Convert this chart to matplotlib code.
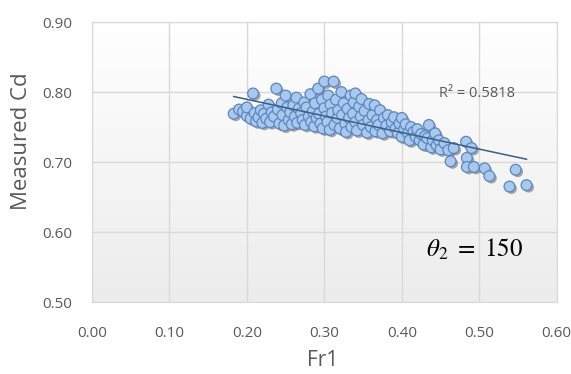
import numpy as np
import matplotlib
matplotlib.use('Agg')
import matplotlib.pyplot as plt
import matplotlib.patheffects as pe

# Fr1 vs measured Cd
fr1 = [
    0.183, 0.19, 0.195, 0.20, 0.200, 0.205, 0.208, 0.21, 0.212, 0.215, 0.218, 0.22, 0.222,
    0.225, 0.228, 0.23, 0.232, 0.235, 0.238, 0.24, 0.242, 0.245, 0.246, 0.248, 0.25, 0.252,
    0.254, 0.256, 0.258, 0.26,
    0.262, 0.264, 0.265, 0.267, 0.27, 0.272, 0.274, 0.275, 0.277, 0.28, 0.282, 0.283, 0.285,
    0.287, 0.288, 0.29, 0.292, 0.293, 0.295, 0.297, 0.298, 0.30, 0.30,
    0.302, 0.304, 0.305, 0.307, 0.308, 0.31, 0.312, 0.313, 0.315, 0.317, 0.318, 0.32, 0.322,
    0.323, 0.325, 0.327, 0.328, 0.33, 0.332, 0.334, 0.335, 0.337, 0.338, 0.34, 0.34,
    0.342, 0.345, 0.347, 0.348, 0.35, 0.352, 0.355, 0.357, 0.358, 0.36, 0.362, 0.365, 0.366,
    0.368, 0.37, 0.372, 0.375, 0.377, 0.38, 0.382, 0.385, 0.387, 0.39, 0.392, 0.395, 0.397,
    0.40, 0.40,
    0.403, 0.405, 0.408, 0.41, 0.412, 0.415, 0.418, 0.42, 0.423, 0.425, 0.428, 0.43, 0.433,
    0.435, 0.438, 0.44, 0.443, 0.445, 0.448, 0.45,
    0.455, 0.46, 0.463, 0.467, 0.483, 0.484, 0.484, 0.490, 0.493, 0.507, 0.513, 0.539, 0.547, 0.561,
]
cd = [
    0.769, 0.775, 0.772, 0.766, 0.778, 0.762, 0.798, 0.770, 0.758, 0.764, 0.774, 0.756, 0.769,
    0.762, 0.782, 0.757, 0.771, 0.765, 0.805, 0.775, 0.755, 0.784, 0.767, 0.752, 0.795, 0.778,
    0.760, 0.771, 0.754, 0.781,
    0.765, 0.792, 0.756, 0.776, 0.770, 0.760, 0.785, 0.753, 0.778, 0.765, 0.797, 0.757, 0.772,
    0.751, 0.784, 0.763, 0.805, 0.769, 0.755, 0.789, 0.748, 0.815, 0.777,
    0.765, 0.757, 0.795, 0.746, 0.782, 0.770, 0.815, 0.753, 0.789, 0.763, 0.774, 0.748, 0.800,
    0.767, 0.784, 0.755, 0.743, 0.776, 0.763, 0.795, 0.750, 0.769, 0.785, 0.757, 0.798,
    0.745, 0.779, 0.765, 0.790, 0.753, 0.773, 0.742, 0.760, 0.783, 0.750, 0.767, 0.781, 0.744,
    0.760, 0.753, 0.774, 0.741, 0.763, 0.752, 0.767, 0.744, 0.757, 0.764, 0.748, 0.741, 0.755,
    0.763, 0.736,
    0.747, 0.754, 0.741, 0.731, 0.750, 0.743, 0.736, 0.747, 0.731, 0.740, 0.725, 0.737, 0.734,
    0.753, 0.721, 0.731, 0.741, 0.724, 0.731, 0.718,
    0.727, 0.717, 0.701, 0.720, 0.729, 0.706, 0.693, 0.720, 0.693, 0.691, 0.680, 0.665, 0.689, 0.667,
]
x_ticks = [0.0, 0.1, 0.2, 0.3, 0.4, 0.5, 0.6]
y_ticks = [0.5, 0.6, 0.7, 0.8, 0.9]
r2_text = 'R² = 0.5818'
angle_text = r'$\theta_2\ =\ 150$'

plt.rcParams['font.family'] = ['Open Sans', 'DejaVu Sans']
plt.rcParams['mathtext.fontset'] = 'stix'

fig = plt.figure(figsize=(5.71, 3.74), dpi=100)
ax = fig.add_axes([0.161, 0.1925, 0.814, 0.7485])

# light gradient in the plot area
grad = np.linspace(0, 1, 256).reshape(-1, 1)
ax.imshow(grad, extent=[0, 0.6, 0.5, 0.9], aspect='auto', zorder=0,
          cmap=matplotlib.colors.LinearSegmentedColormap.from_list('bg', ['#ececec', '#ffffff']),
          origin='lower')

sc = ax.scatter(fr1, cd, s=60, facecolor='#a9c8ee', edgecolor='#5b86c0', linewidth=0.9, zorder=3)
sc.set_path_effects([pe.SimplePatchShadow(offset=(1.5, -1.5), shadow_rgbFace='#555555', alpha=0.5),
                     pe.Normal()])

k, b = np.polyfit(fr1, cd, 1)
xl = np.array([min(fr1), max(fr1)])
ax.plot(xl, k * xl + b, color='#3b5f80', linewidth=1.1, zorder=4)

ax.set_xlim(0, 0.6)
ax.set_ylim(0.5, 0.9)
ax.set_xticks(x_ticks)
ax.set_yticks(y_ticks)
ax.set_xticklabels([f'{t:.2f}' for t in x_ticks])
ax.set_yticklabels([f'{t:.2f}' for t in y_ticks])
ax.tick_params(length=0, labelsize=11, colors='#595959')
ax.tick_params(axis='x', pad=17)
ax.tick_params(axis='y', pad=14)
ax.grid(True, color='#d9d9d9', linewidth=1)
ax.set_axisbelow(True)
for s in ax.spines.values():
    s.set_color('#d9d9d9')

ax.set_xlabel('Fr1', fontsize=15, color='#595959')
ax.set_ylabel('Measured Cd', fontsize=16, color='#595959')
ax.xaxis.set_label_coords(0.497, -0.17)
ax.yaxis.set_label_coords(-0.13, 0.575)

ax.text(0.497, 0.7986, r2_text, fontsize=10.5, color='#595959', ha='center', va='center', zorder=5)
ax.text(0.494, 0.574, angle_text, fontsize=18, color='black', ha='center', va='center', zorder=5)

fig.savefig('out.png', dpi=100, facecolor='white')
